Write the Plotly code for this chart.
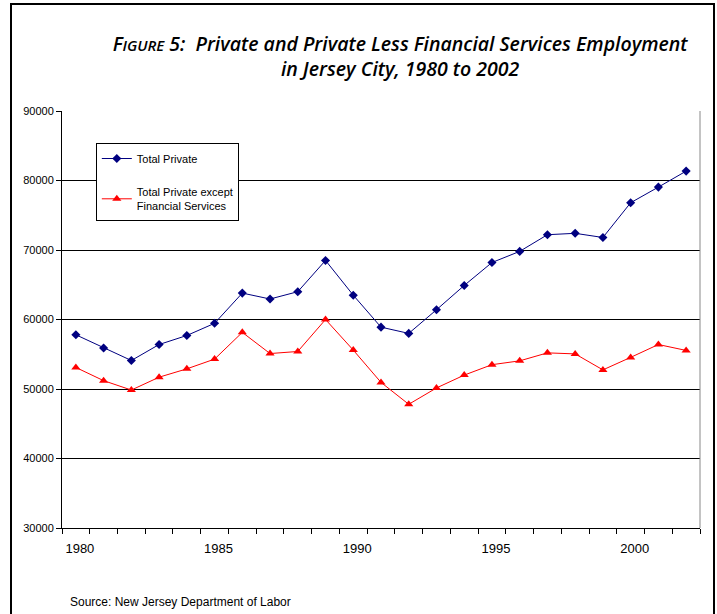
import plotly.graph_objects as go

# Employment in Jersey City, 1980-2002
years = list(range(1980, 2003))
total_private = [57800, 55900, 54100, 56400, 57700, 59450, 63800, 62950, 64000, 68500,
                 63500, 58900, 58000, 61400, 64900, 68200, 69800, 72200, 72400, 71800,
                 76800, 79050, 81350]
private_ex_fin = [53100, 51200, 49850, 51700, 52900, 54300, 58150, 55100, 55400, 60000,
                  55600, 50950, 47800, 50150, 52000, 53500, 54050, 55200, 55050, 52750,
                  54550, 56400, 55550]
x_tick_years = [1980, 1985, 1990, 1995, 2000]
y_ticks = [30000, 40000, 50000, 60000, 70000, 80000, 90000]

fig = go.Figure()
fig.add_trace(go.Scatter(
    x=years, y=total_private, name="Total Private", mode="lines+markers",
    line=dict(color="#000080", width=1),
    marker=dict(symbol="diamond", size=7, color="#000080"),
    legendgroup="a"))
fig.add_trace(go.Scatter(
    x=years, y=private_ex_fin, name="Total Private except<br>Financial Services",
    mode="lines+markers",
    line=dict(color="#FF0000", width=1),
    marker=dict(symbol="triangle-up", size=8, color="#FF0000"),
    legendgroup="b"))

sans = "Liberation Sans, Arial, sans-serif"

fig.update_layout(
    width=717, height=614,
    margin=dict(l=62, r=17, t=111, b=86),
    paper_bgcolor="white", plot_bgcolor="white",
    showlegend=True,
    legend=dict(
        x=0.053, y=(528 - 143) / 417, xanchor="left", yanchor="top",
        bgcolor="white", bordercolor="#000", borderwidth=1,
        font=dict(family=sans, size=11, color="#000"),
        tracegroupgap=15, traceorder="grouped", itemwidth=30,
    ),
    xaxis=dict(
        range=[1979.5, 2002.5],
        tickvals=x_tick_years, ticktext=[str(v) for v in x_tick_years],
        ticks="", showgrid=False, zeroline=False,
        showline=True, linecolor="#000", linewidth=1,
        tickfont=dict(family=sans, size=13, color="#000"),
        ticklabelstandoff=8, ticklabelshift=4,
        minor=dict(ticks="outside", tick0=1979.5, dtick=1, ticklen=5,
                   tickcolor="#000", showgrid=False),
    ),
    yaxis=dict(
        range=[30000, 90000], tickvals=y_ticks, ticktext=[str(v) for v in y_ticks],
        ticks="outside", ticklen=5, tickcolor="#000",
        showgrid=True, gridcolor="#000", gridwidth=1, zeroline=False,
        showline=True, linecolor="#000", linewidth=1,
        tickfont=dict(family=sans, size=11, color="#000"),
    ),
    title=dict(
        text="F<span style='font-size:15px'>IGURE</span> 5:  Private and Private Less Financial Services Employment"
             "<br>in Jersey City, 1980 to 2002",
        x=0.558, xanchor="center", y=0.917, yanchor="top",
        font=dict(family="Open Sans, sans-serif", size=19.5, color="#000",
                  style="italic", weight=600),
    ),
)

# right edge of the plot area
fig.add_shape(type="line", xref="paper", yref="paper", x0=1, x1=1, y0=0, y1=1,
              line=dict(color="#888", width=1))
# outer frame around the whole figure
fig.add_shape(type="rect", xref="paper", yref="paper",
              x0=(11 - 62) / 638, x1=(714 - 62) / 638,
              y0=-0.3, y1=(528 - 4) / 417,
              line=dict(color="#000", width=2), layer="above")

fig.add_annotation(
    text="Source: New Jersey Department of Labor",
    xref="paper", yref="paper", x=(68 - 62) / 638, y=(528 - 602) / 417,
    xanchor="left", yanchor="middle", showarrow=False,
    font=dict(family="Liberation Sans Narrow, Liberation Sans, Arial, sans-serif",
              size=12, color="#000"),
)

fig.write_html("out.html")
